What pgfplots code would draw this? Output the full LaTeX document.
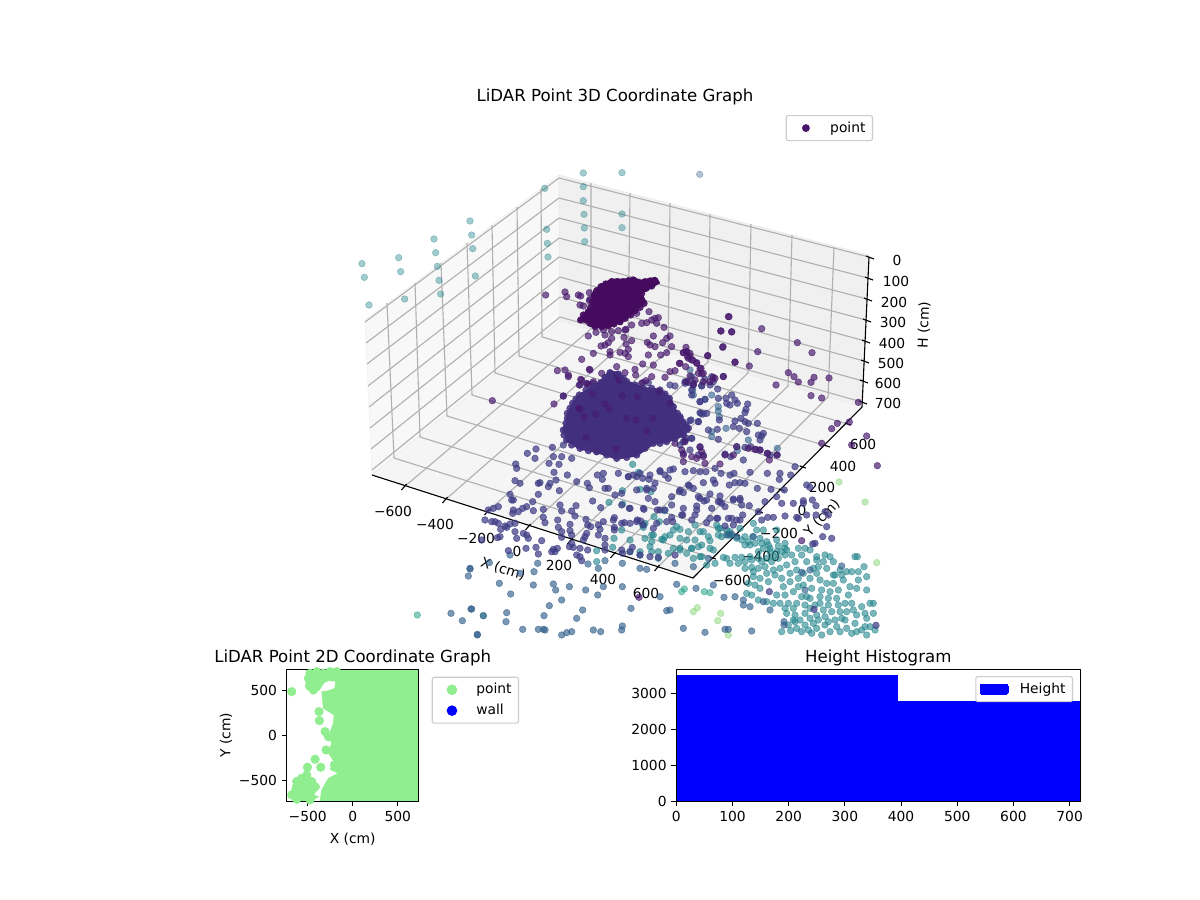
\documentclass[border=0pt]{standalone}
\usepackage{pgfplots}
\pgfplotsset{compat=1.18}
\usepackage{fontspec}
\setmainfont{DejaVu Sans}
\definecolor{cA}{HTML}{440B5E}
\definecolor{cP}{HTML}{46186C}
\definecolor{cB}{HTML}{3F3C85}
\definecolor{cC}{HTML}{33608C}
\definecolor{cT}{HTML}{23858C}
\definecolor{cG}{HTML}{25A088}
\definecolor{cL}{HTML}{6ECE58}
\definecolor{cBlob}{HTML}{42307E}
\definecolor{lgreen}{HTML}{90EE90}
\definecolor{gridc}{HTML}{B0B0B0}
\definecolor{legc}{HTML}{CCCCCC}
\pgfplotsset{
  pp/.style n args={4}{only marks, mark=*, mark size=2.4pt, forget plot, color=#1,
    mark options={solid, line width=.4pt, fill=#1, draw=#1, opacity=#2},
    x filter/.expression={x/3+#3}, y filter/.expression={y/3+#4}},
  gl/.style={forget plot, no marks, color=gridc, line width=.8pt},
  al/.style={forget plot, no marks, color=black, line width=.8pt},
  ax2/.style={scale only axis, axis on top, tick align=outside, major tick length=3.5pt,
    tick style={black, line width=.8pt}, axis line style={line width=.8pt},
    xtick pos=lower, ytick pos=left, tick label style={font=\fontsize{10}{12}\selectfont},
    label style={font=\fontsize{10}{12}\selectfont}, title style={font=\fontsize{12}{14}\selectfont},
    /pgf/number format/assume math mode=true},
  dotleg/.style={legend image code/.code={\path (-0.07in,0) (0.29in,0); \draw[mark=*, ##1] plot coordinates {(0.08in,0)};}},
}
\begin{document}
\begin{tikzpicture}
\path[use as bounding box] (0,0) rectangle (12in,9in);
% ---------- 3D frame, in picture pixels
\begin{axis}[at={(0,0)}, anchor=south west, scale only axis, width=12in, height=9in,
  xmin=0, xmax=1200, ymin=0, ymax=900, y dir=reverse, hide axis, clip=false]
\addplot[forget plot, fill={rgb,255:red,248;green,248;blue,248}, draw={rgb,255:red,240;green,240;blue,240}] coordinates {(365,320)(559,175)(560,321)(372,475)} -- cycle;
\addplot[forget plot, fill={rgb,255:red,240;green,240;blue,240}, draw={rgb,255:red,234;green,234;blue,234}] coordinates {(559,175)(869,255)(862,407)(560,321)} -- cycle;
\addplot[forget plot, fill={rgb,255:red,245;green,245;blue,245}, draw={rgb,255:red,238;green,238;blue,238}] coordinates {(372,475)(560,321)(862,407)(693,578)} -- cycle;
% X grid
\addplot[gl] coordinates {(404,487)(591,329)(591,183)};
\addplot[gl] coordinates {(445,500)(628,340)(630,193)};
\addplot[gl] coordinates {(487,512)(668,351)(670,203)};
\addplot[gl] coordinates {(528,527)(708,362)(710,214)};
\addplot[gl] coordinates {(570,541)(748,373)(751,224)};
\addplot[gl] coordinates {(613,555)(788,386)(792,235)};
\addplot[gl] coordinates {(657,568)(828,397)(834,247)};
% Y grid
\addplot[gl] coordinates {(713,558)(394,458)(387,303)};
\addplot[gl] coordinates {(737,535)(420,437)(415,283)};
\addplot[gl] coordinates {(760,512)(447,416)(441,263)};
\addplot[gl] coordinates {(782,490)(472,395)(467,243)};
\addplot[gl] coordinates {(803,467)(495,373)(492,225)};
\addplot[gl] coordinates {(827,446)(519,356)(517,207)};
\addplot[gl] coordinates {(848,424)(542,337)(541,189)};
% H grid
\addplot[gl] coordinates {(365,322)(559,178)(869,257)};
\addplot[gl] coordinates {(366,343)(559,198)(868,278)};
\addplot[gl] coordinates {(367,364)(559,218)(867,299)};
\addplot[gl] coordinates {(368,386)(559,238)(866,320)};
\addplot[gl] coordinates {(369,407)(559,257)(865,341)};
\addplot[gl] coordinates {(370,428)(560,277)(864,361)};
\addplot[gl] coordinates {(371,449)(560,297)(863,381)};
\addplot[gl] coordinates {(372,470)(560,317)(862,402)};
% axis lines
\addplot[al] coordinates {(372,475)(693,578)(862,407)};
\addplot[al] coordinates {(869,257)(862,407)};
% ticks
\addplot[al] coordinates {(401.5,490)(406.5,484)};
\addplot[al] coordinates {(442.5,503)(447.5,497)};
\addplot[al] coordinates {(484.5,515)(489.5,509)};
\addplot[al] coordinates {(525.5,530)(530.5,524)};
\addplot[al] coordinates {(567.5,544)(572.5,538)};
\addplot[al] coordinates {(610.5,558)(615.5,552)};
\addplot[al] coordinates {(654.5,571)(659.5,565)};
\addplot[al] coordinates {(710,557)(716,559)};
\addplot[al] coordinates {(734,534)(740,536)};
\addplot[al] coordinates {(757,511)(763,513)};
\addplot[al] coordinates {(779,489)(785,491)};
\addplot[al] coordinates {(800,466)(806,468)};
\addplot[al] coordinates {(824,445)(830,447)};
\addplot[al] coordinates {(845,423)(851,425)};
\addplot[al] coordinates {(866,256)(874,259)};
\addplot[al] coordinates {(865,277)(873,280)};
\addplot[al] coordinates {(864,298)(872,301)};
\addplot[al] coordinates {(863,319)(871,322)};
\addplot[al] coordinates {(862,340)(870,343)};
\addplot[al] coordinates {(861,360)(869,363)};
\addplot[al] coordinates {(860,380)(868,383)};
\addplot[al] coordinates {(859,401)(867,404)};
% labels
\begin{scope}[every node/.style={font=\fontsize{10}{12}\selectfont, inner sep=0pt}]
\node at (axis cs:393,511) {−600};
\node at (axis cs:435,524) {−400};
\node at (axis cs:476,538) {−200};
\node at (axis cs:517,551) {0};
\node at (axis cs:559,565) {200};
\node at (axis cs:603,579) {400};
\node at (axis cs:646,593) {600};
\node at (axis cs:732,580) {−600};
\node at (axis cs:761,556) {−400};
\node at (axis cs:779,533) {−200};
\node at (axis cs:802,510) {0};
\node at (axis cs:822,487) {200};
\node at (axis cs:843,466) {400};
\node at (axis cs:863,444) {600};
\node at (axis cs:897,260) {0};
\node at (axis cs:896,281) {100};
\node at (axis cs:894,302) {200};
\node at (axis cs:893,322) {300};
\node at (axis cs:892,343) {400};
\node at (axis cs:891,363) {500};
\node at (axis cs:888,383) {600};
\node at (axis cs:888,403) {700};
\node[rotate=-18] at (axis cs:503,569) {X (cm)};
\node[rotate=47] at (axis cs:822,518) {Y (cm)};
\node[rotate=88] at (axis cs:924,325) {H (cm)};
\node[font=\fontsize{12}{14}\selectfont] at (axis cs:615,97) {LiDAR Point 3D Coordinate Graph};
\end{scope}
\end{axis}
% ---------- scatter of the 3D view, clipped as in the reference
\begin{axis}[at={(0,2.65in)}, anchor=south west, scale only axis, width=8.79in, height=6.35in,
  xmin=0, xmax=879, ymin=0, ymax=635, y dir=reverse, hide axis]
% top, pale points
\addplot[pp={cT}{.42}{340}{150}] coordinates {(730,69)(846,68)(730,110)(730,152)(732,193)(846,192)(733,234)(846,233)(734,275)(614,115)(620,238)(622,280)(624,321)(390,213)(395,255)(398,296)(406,378)(282,267)(287,308)(292,349)(297,391)(302,432)(176,323)(182,365)(194,447)(66,341)(73,382)(87,465)};
\addplot[pp={cC}{.38}{640}{150}] coordinates {(179,73)};
% light green
\addplot[pp={cL}{.42}{670}{440}] coordinates {(507,126)(585,186)(620,368)(82,503)(70,515)(152,520)(143,542)(175,585)};
\addplot[pp={cG}{.55}{670}{440}] coordinates {(43,447)(35,455)(103,455)(120,458)};
\addplot[pp={cG}{.55}{340}{375}] coordinates {(232,720)};
\addplot[pp={cG}{.55}{470}{440}] coordinates {(40,527)};
% teal points
\addplot[pp={cT}{.6}{670}{440}] coordinates {(75,255)(140,255)(145,265)(100,275)(55,275)(30,268)(10,270)(30,295)(50,300)(75,300)(120,302)(145,285)(155,290)(175,285)(180,275)(210,265)(250,250)(260,270)(280,270)(225,290)(248,290)(270,295)(290,305)(320,270)(320,300)(345,310)(345,325)(325,318)(300,325)(280,325)(265,335)(240,315)(225,315)(200,295)(178,282)(130,330)(85,320)(65,325)(50,340)(30,325)(70,355)(95,350)(160,352)(170,355)(195,352)(215,352)(240,350)(135,370)(110,375)(180,370)
(245,382)(225,385)(265,385)(250,395)(275,365)(285,380)(305,365)(325,355)(345,345)(350,375)(375,365)(395,345)(410,365)(440,360)(460,365)(490,365)(330,385)(310,390)(290,400)(270,415)(250,410)(235,430)(255,435)(270,445)(295,425)(315,405)(335,415)(360,400)(380,390)(400,400)(445,380)(440,400)(470,385)(490,405)(530,395)(545,395)(565,395)(582,380)(555,350)(562,350)(495,405)(515,405)(420,415)(450,420)(470,430)(490,430)(520,420)(540,440)(565,420)(590,410)(340,440)(360,425)(385,415)(400,435)(425,445)(455,450)(480,455)(505,450)(535,465)(560,445)(590,450)(600,490)(320,465)(345,465)(370,455)(395,470)(420,475)(450,470)(475,475)(500,475)(525,490)(550,510)(575,500)(610,520)(265,480)(290,485)(310,490)(330,490)(355,490)(380,490)(405,495)(435,495)(460,510)(485,515)(510,515)(530,515)(560,525)(590,535)(610,490)(350,520)(375,525)(405,520)(440,525)(465,530)(495,540)(525,540)(555,550)(585,560)(615,570)(370,540)(375,545)(405,555)(430,550)(440,565)(465,555)(500,560)(530,565)(560,575)(590,585)(335,575)(362,572)(395,575)(425,580)(455,585)(490,588)(525,590)(230,460)(245,465)
(215,300)(235,305)(255,310)(275,310)(295,315)(350,330)(335,335)(310,350)(290,355)(265,355)(245,360)(225,365)(205,370)(300,335)(320,335)(420,330)(440,350)(430,385)(365,345)(385,325)(405,325)(465,345)(480,350)(510,390)(385,440)(410,470)(345,505)(370,505)(420,505)(450,490)(475,495)(505,495)(545,490)(585,520)(515,535)(475,545)(445,540)(420,535)(390,540)(355,555)(380,565)(415,570)(480,575)(510,575)(545,580)(575,570)(600,560)(605,590)};
\addplot[pp={cT}{.62}{470}{440}] coordinates {(505,97)(488,73)(510,148)(457,152)(543,155)(417,187)(458,192)(583,212)(552,230)(568,245)(455,270)(520,262)(518,255)(525,250)(545,285)(575,298)(585,290)(545,305)(540,320)(432,295)(428,322)(380,332)(380,365)(595,340)(565,335)};
\addplot[pp={cT}{.62}{620}{375}] coordinates {(30,495)(75,490)(100,480)(150,480)(170,455)(240,470)(265,485)(300,460)(320,465)(330,480)(60,530)(95,530)(130,495)(160,520)(180,525)(215,520)(245,510)(270,520)(240,545)(115,550)(60,540)(30,530)};
% blue, lower
\addplot[pp={cC}{.65}{470}{440}] coordinates {(120,345)(58,368)(0,385)(203,370)(354,372)(405,362)(457,370)(510,385)(530,388)(385,385)(150,400)(192,395)(88,430)(190,435)(250,432)(298,440)(257,450)(347,450)(400,440)(457,440)(122,462)(383,465)(570,470)(275,480)(238,497)(483,505)(338,510)(590,512)(5,507)(110,518)(222,527)(320,535)(108,545)(457,558)(455,570)(158,568)(205,568)(220,568)(225,570)(370,570)(392,575)(22,585)(290,578)(275,585)(305,575)(390,590)(545,590)(142,590)};
\addplot[pp={cC}{.65}{340}{375}] coordinates {(390,582)(385,603)(333,715)(393,702)(367,737)(430,722)(412,778)};
\addplot[pp={cC}{.65}{670}{440}] coordinates {(20,433)(78,445)(130,435)(162,472)(195,470)(220,480)(220,495)(0,510)(240,500)(300,510)(40,565)(105,577)(165,568)(175,568)(245,573)(62,587)(342,545)(342,555)(395,397)(420,390)(515,378)(405,450)(280,485)(15,370)(70,380)(115,355)(170,285)(250,290)(185,283)(200,290)};
\addplot[pp={cC}{.6}{680}{310}] coordinates {(30,180)(35,200)(40,225)(38,240)(40,255)(75,268)(95,255)(115,290)(115,303)(118,320)(138,355)(95,365)(95,380)(205,390)(170,410)(172,422)(292,415)};
% blue-purple, floor
\addplot[pp={cB}{.72}{470}{440}] coordinates {(247,22)(198,27)(172,40)(195,55)(250,50)(275,50)(305,55)(237,70)(267,73)(137,72)(140,85)(252,97)(292,105)(135,122)(150,130)(205,130)(210,128)(240,130)(258,120)(235,140)(268,152)(320,125)(382,105)(400,100)(397,118)(352,130)(358,143)(120,163)(205,163)(130,180)(125,180)(188,185)(55,210)(70,205)(85,200)(130,210)(145,215)(158,205)(170,200)(128,220)(190,212)(220,208)(270,195)(275,213)(305,213)(318,197)(315,228)(368,183)(392,203)(45,240)(65,245)(75,245)(85,250)(120,252)(135,250)(220,232)(225,248)(263,240)(300,253)(348,238)(353,255)(433,233)(455,250)(478,205)(522,208)(445,100)(475,110)(415,145)(405,145)(435,165)(500,110)(518,115)(537,118)(555,130)(570,92)(585,105)(595,115)(530,145)(555,185)(585,210)(562,210)
(105,258)(92,268)(110,262)(135,275)(140,295)(160,280)(170,285)(175,295)(90,290)(82,293)(35,300)(215,302)(265,262)(275,275)(275,292)(300,272)(305,285)(345,290)(350,280)(362,260)(385,255)(390,268)(385,285)(405,295)(433,262)(433,270)(400,245)(502,240)(463,248)(480,250)(512,243)(550,265)(430,240)(305,310)(310,322)(330,325)(353,330)(405,315)(405,330)(455,330)(458,340)(487,322)(510,345)(540,350)(565,352)(480,335)(340,300)(115,332)(168,325)(198,322)(205,342)(250,328)(262,325)(255,335)(245,335)(298,320)(320,345)(330,350)(335,362)};
\addplot[pp={cB}{.72}{670}{440}] coordinates {(10,87)(45,95)(70,92)(90,95)(108,95)(135,85)(153,100)(180,105)(192,100)(240,97)(292,100)(330,100)(328,118)(375,80)(362,105)(130,120)(135,130)(100,128)(178,135)(195,128)(210,128)(225,130)(262,145)(303,148)(343,150)(320,170)(58,138)(70,145)(28,155)(40,158)(5,170)(120,162)(150,168)(190,177)(210,175)(238,197)(285,185)(85,170)(102,183)(145,185)(155,190)(80,198)(40,205)(38,225)(75,225)(125,205)(165,200)(215,195)(5,232)(8,245)(110,248)(175,235)(190,255)(275,240)(143,235)(165,258)(218,225)(210,240)(265,215)(335,190)(370,190)(400,182)(400,190)(427,180)(438,197)(410,135)(420,142)(410,225)(380,232)(385,235)(345,228)(310,232)(293,232)(438,225)(465,215)(475,225)(470,260)(458,290)(485,295)(435,310)(428,312)(15,345)(298,455)(432,508)(618,556)};
\addplot[pp={cB}{.72}{680}{310}] coordinates {(75,208)(95,200)(100,215)(90,225)(65,227)(130,199)(15,215)(25,218)(113,237)(60,275)(115,265)(138,265)(155,255)(165,270)(140,280)(150,285)(172,280)(203,282)(198,298)(195,308)(62,310)(70,312)(118,330)(183,325)(165,333)(195,335)(205,340)(232,340)(160,350)(178,355)(200,365)(112,358)(115,388)(0,320)(30,332)(55,335)(5,340)(15,350)(20,360)(235,375)(250,370)(245,378)(240,390)(20,385)(35,385)(10,395)(60,412)(135,432)(152,440)(195,412)(212,410)(228,418)(240,420)(262,430)(270,435)(292,435)(10,430)(30,420)(55,435)(70,435)(190,450)};
\addplot[pp={cB}{.7}{560}{380}] coordinates {(10,48)(60,15)(80,12)(100,10)(248,8)(265,8)(330,15)(345,18)(375,10)(400,10)(425,18)(395,30)(395,45)(420,65)(435,58)(420,98)(440,100)(393,120)(415,125)(445,150)(395,175)(375,180)(360,195)(10,195)};
\addplot[pp={cB}{.7}{620}{375}] coordinates {(5,355)(40,300)(60,295)(90,300)(120,290)(150,285)(25,305)(50,345)(80,345)(100,340)(85,370)(5,390)(30,400)(70,400)(120,405)(155,390)(180,345)(205,330)(240,370)(260,375)(300,380)(340,375)(360,375)(230,405)(270,430)(290,430)(335,430)(350,435)(50,440)(70,450)(110,445)(140,440)(185,420)(215,435)};
% purple
\addplot[pp={cP}{.68}{680}{310}] coordinates {(147,20)(122,63)(155,66)(245,56)(352,98)(396,128)(129,110)(233,125)(83,137)(165,156)(208,168)(325,188)(342,200)(355,216)(288,225)(393,217)(402,202)(447,204)(393,257)(425,264)(535,277)(508,336)(472,340)(455,356)(425,400)(560,378)(515,405)(18,112)(10,128)(20,125)(30,130)(22,140)(35,150)(50,158)(0,160)(25,145)(63,175)(55,190)(70,190)};
\addplot[pp={cP}{.68}{670}{440}] coordinates {(622,77)(40,45)(45,5)(15,10)(90,20)(35,30)(65,50)(40,65)(80,55)(100,50)(95,35)(105,70)(150,72)(165,45)(190,45)(200,20)(235,25)(255,28)(270,30)(292,40)(320,45)(298,60)(395,302)};
\addplot[pp={cP}{.68}{340}{375}] coordinates {(457,77)(642,87)(670,63)(717,100)(685,5)(725,15)(745,28)};
\addplot[pp={cP}{.68}{470}{440}] coordinates {(507,472)(380,35)};
\addplot[pp={cP}{.68}{540}{270}] coordinates {(17,75)(75,66)(80,80)(115,75)(122,78)(148,68)(150,88)(120,105)(130,108)(148,92)(240,155)(255,180)(275,165)(305,160)(320,158)(335,150)(345,145)(355,143)(350,160)(372,172)(290,130)(327,125)(145,198)(168,187)(190,180)(195,195)(215,185)(235,182)(258,178)(252,202)(275,212)(258,222)(265,238)(240,247)(255,250)(215,205)(205,218)(195,225)(183,228)(160,250)(210,245)(210,255)(125,268)(265,260)(322,217)(340,198)(345,230)(330,225)(325,255)(368,218)(380,205)(390,198)(395,230)(380,248)(362,255)(340,285)(308,282)(418,280)(430,248)(440,245)(450,258)(458,270)(470,280)(503,257)(548,232)(565,140)(543,183)(575,185)(585,277)(437,290)(480,295)(485,312)(520,322)(550,320)(450,318)(465,330)(405,302)(390,305)(375,322)(285,298)(287,315)(255,308)(230,290)(232,315)(238,330)(335,320)(318,332)(305,340)(490,335)(510,335)(525,325)(440,335)(460,345)(75,300)(52,302)(85,315)(122,328)(148,298)(150,300)(118,345)(140,340)(160,335)(185,310)};
% the two dense clusters
\addplot[forget plot, fill=cBlob, draw=cBlob, line width=2pt, x filter/.expression={x/3+560}, y filter/.expression={y/3+380}] coordinates {(20,170)(10,150)(20,130)(25,100)(40,70)(60,45)(100,20)(120,8)(150,-25)(175,-20)(200,5)(250,25)(300,30)(330,55)(350,100)(385,145)(370,165)(320,185)(280,190)(230,225)(170,235)(110,215)(60,205)(20,180)} -- cycle;
\addplot[pp={cBlob}{.85}{560}{380}] coordinates {(10,150)(18,130)(22,115)(22,100)(30,85)(38,70)(48,57)(58,45)(78,30)(100,20)(122,8)(135,-8)(150,-22)(175,-18)(190,-5)(200,5)(225,15)(250,25)(275,25)(300,30)(315,42)(328,55)(340,80)(352,100)(360,113)(368,125)(378,135)(385,145)(370,165)(345,175)(320,185)(300,190)(280,190)(255,205)(230,225)(200,232)(170,235)(140,225)(110,215)(85,212)(60,205)(35,195)(20,180)(12,165)};
\addplot[pp={cP}{.5}{560}{380}] coordinates {(97,42)(187,47)(232,50)(297,35)(135,72)(147,87)(60,88)(72,110)(107,102)(200,115)(228,120)(278,115)(260,153)(78,172)(330,70)(168,207)};
\addplot[forget plot, fill=cA, draw=cA, line width=2pt, x filter/.expression={x/3+540}, y filter/.expression={y/3+270}] coordinates {(120,150)(135,130)(160,110)(160,70)(185,45)(215,30)(260,30)(280,25)(300,35)(345,25)(355,38)(335,50)(300,70)(315,95)(290,115)(270,135)(240,155)(205,170)(160,170)(140,150)} -- cycle;
\addplot[pp={cA}{.9}{540}{270}] coordinates {(122,150)(130,135)(145,125)(152,112)(158,95)(163,78)(170,62)(183,50)(197,42)(215,35)(232,35)(250,35)(265,32)(280,30)(298,38)(315,35)(330,33)(345,32)(335,48)(318,55)(305,70)(303,85)(312,100)(300,112)(285,122)(272,135)(255,145)(240,155)(222,162)(205,168)(185,170)(165,170)(150,160)(138,150)};
\end{axis}
% ---------- legend of the 3D view
\begin{axis}[at={(0,0)}, anchor=south west, scale only axis, width=12in, height=9in,
  xmin=0, xmax=1, ymin=0, ymax=1, hide axis, dotleg,
  legend style={at={(axis description cs:0.7275,0.8722)}, anchor=north east, font=\fontsize{10}{12}\selectfont,
    draw=legc, rounded corners=1.5pt, line width=.8pt, inner xsep=3pt, inner ysep=2.5pt},
  legend cell align=left]
\addlegendimage{only marks, mark=*, mark size=2.4pt, color=cP}
\addlegendentry{point}
\addplot[forget plot, draw=none] coordinates {(0,0)(1,1)};
\end{axis}
% ---------- 2D
\begin{axis}[ax2, dotleg, at={(2.867in,0.987in)}, anchor=south west, width=1.32in, height=1.32in,
  xmin=-733, xmax=733, ymin=-733, ymax=733, xtick={-500,0,500}, ytick={-500,0,500},
  xticklabels={−500,0,500}, yticklabels={−500,0,500},
  xlabel={X (cm)}, ylabel={Y (cm)}, xlabel style={yshift=-1.5pt}, ylabel style={yshift=-2pt},
  title={LiDAR Point 2D Coordinate Graph}, title style={yshift=-7pt},
  legend style={at={(axis description cs:1.0985,0.944)}, anchor=north west, font=\fontsize{10}{12}\selectfont,
    draw=legc, rounded corners=1.5pt, line width=.8pt, inner xsep=3pt, inner ysep=2.5pt, row sep=2pt},
  legend cell align=left]
\addlegendimage{only marks, mark=*, mark size=3.4pt, color=lgreen}
\addlegendentry{point}
\addlegendimage{only marks, mark=*, mark size=3.4pt, color=blue}
\addlegendentry{wall}
\addplot[forget plot, fill=lgreen, draw=lgreen] coordinates {(-141,733)(733,733)(733,-733)(-363,-733)(-344,-607)(-270,-477)(-159,-422)(-252,-377)(-204,-292)(-270,-200)(-233,-89)(-270,-15)(-215,133)(-207,226)(-326,300)(-344,485)(-290,490)(-200,520)(-190,590)(-141,600)} -- cycle;
\addplot[forget plot, fill=lgreen, draw=lgreen] coordinates {(-518,733)(-141,733)(-141,596)(-270,607)(-318,585)(-370,503)(-455,466)(-529,540)(-503,633)} -- cycle;
\addplot[forget plot, fill=lgreen, draw=lgreen] coordinates {(-696,-662)(-640,-477)(-511,-414)(-418,-533)(-363,-570)(-437,-662)(-381,-681)(-455,-733)(-659,-733)} -- cycle;
\addplot[forget plot, only marks, mark=*, mark size=3.1pt, color=lgreen] coordinates {(-677,485)(-374,263)(-370,163)(-307,41)(-270,-15)(-296,-163)(-418,-266)(-355,-355)(-503,-355)(-203,-329)(-474,688)(-492,633)(-474,540)(-437,503)(-400,707)(-326,688)(-252,707)(-400,596)(-344,633)(-296,644)(-178,707)(-677,-662)(-622,-514)(-622,-570)(-566,-477)(-511,-440)(-566,-588)(-511,-533)(-418,-570)(-455,-514)(-585,-662)(-511,-644)(-622,-710)(-474,-718)};
\end{axis}
% ---------- Histogram
\begin{axis}[ax2, at={(6.763in,0.987in)}, anchor=south west, width=4.04in, height=1.32in,
  xmin=0, xmax=719, ymin=0, ymax=3677, xtick={0,100,...,700}, ytick={0,1000,2000,3000},
  xticklabels={0,100,200,300,400,500,600,700}, yticklabels={0,1000,2000,3000},
  title={Height Histogram}, title style={yshift=-7pt},
  legend style={at={(axis description cs:0.9819,0.949)}, anchor=north east, font=\fontsize{10}{12}\selectfont,
    draw=legc, rounded corners=1.5pt, line width=.8pt, fill opacity=.8, text opacity=1, draw opacity=1, inner xsep=3pt, inner ysep=2.5pt},
  legend image code/.code={\fill[blue, fill opacity=1] (0,-0.05in) rectangle (0.28in,0.05in); \path (0.28in,0) (0.37in,0);},
  legend cell align=left]
\addplot[ybar interval, fill=blue, draw=blue, line width=0pt] coordinates {(0,3510)(393,2785)(720,2785)};
\addlegendentry{Height}
\end{axis}
\end{tikzpicture}
\end{document}
